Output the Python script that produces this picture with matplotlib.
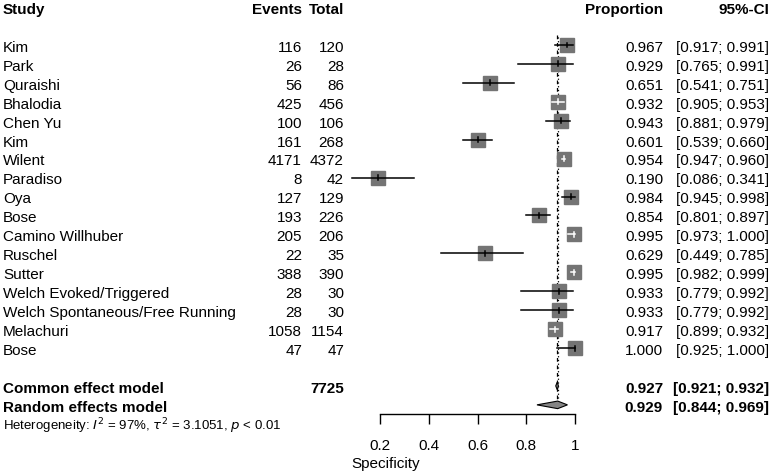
import matplotlib.pyplot as plt
from matplotlib.transforms import blended_transform_factory
from matplotlib.patches import Polygon

plt.rcParams['font.family'] = ['Liberation Sans', 'DejaVu Sans']

# study data
studies = ['Kim', 'Park', 'Quraishi', 'Bhalodia', 'Chen Yu', 'Kim', 'Wilent',
           'Paradiso', 'Oya', 'Bose', 'Camino Willhuber', 'Ruschel', 'Sutter',
           'Welch Evoked/Triggered', 'Welch Spontaneous/Free Running',
           'Melachuri', 'Bose']
events = [116, 26, 56, 425, 100, 161, 4171, 8, 127, 193, 205, 22, 388, 28, 28, 1058, 47]
totals = [120, 28, 86, 456, 106, 268, 4372, 42, 129, 226, 206, 35, 390, 30, 30, 1154, 47]
props = [0.967, 0.929, 0.651, 0.932, 0.943, 0.601, 0.954, 0.190, 0.984, 0.854,
         0.995, 0.629, 0.995, 0.933, 0.933, 0.917, 1.000]
lower = [0.917, 0.765, 0.541, 0.905, 0.881, 0.539, 0.947, 0.086, 0.945, 0.801,
         0.973, 0.449, 0.982, 0.779, 0.779, 0.899, 0.925]
upper = [0.991, 0.991, 0.751, 0.953, 0.979, 0.660, 0.960, 0.341, 0.998, 0.897,
         1.000, 0.785, 0.999, 0.992, 0.992, 0.932, 1.000]

common_est, common_lo, common_hi = 0.927, 0.921, 0.932
random_est, random_lo, random_hi = 0.929, 0.844, 0.969
total_n = 7725
xticks = [0.2, 0.4, 0.6, 0.8, 1.0]
xticklabels = ['0.2', '0.4', '0.6', '0.8', '1']

W, H = 771, 472
fig = plt.figure(figsize=(W / 100, H / 100), dpi=100)
ax = fig.add_axes([0, 0, 1, 1])

# x: proportion scale, 0.2 at px 380 and 1 at px 575
x0px, x1px = 380, 575
upp = 0.8 / (x1px - x0px)
ax.set_xlim(0.2 - x0px * upp, 1.0 + (W - x1px) * upp)
# y: one unit per row
row_px = 18.94
top_px = 45
ax.set_ylim((H - top_px) / row_px, -top_px / row_px)

tr = blended_transform_factory(ax.transAxes, ax.transData)
fs = 11
base = 0.36  # baseline offset below row centre


def put(xpx, row, s, ha='left', bold=False, size=fs):
    ax.text(xpx / W, row + base, s, transform=tr, ha=ha, va='baseline',
            fontsize=size, fontweight='bold' if bold else 'normal')


# header
put(3, -2, 'Study', bold=True)
put(302, -2, 'Events', ha='right', bold=True)
put(344, -2, 'Total', ha='right', bold=True)
put(663, -2, 'Proportion', ha='right', bold=True)
put(769, -2, '95%-CI', ha='right', bold=True)

box_ms = 10.4
half_box = box_ms / 2 * 100 / 72 * upp
gray_box = '#747474'

for i in range(len(studies)):
    put(3, i, studies[i])
    put(302, i, str(events[i]), ha='right')
    put(344, i, str(totals[i]), ha='right')
    put(663, i, '%.3f' % props[i], ha='right')
    put(769, i, '[%.3f; %.3f]' % (lower[i], upper[i]), ha='right')

    ax.plot([props[i]], [i], marker='s', ms=box_ms, color=gray_box,
            mec=gray_box, zorder=3)
    inside = lower[i] >= props[i] - half_box and upper[i] <= props[i] + half_box
    lc = 'white' if inside else 'black'
    ax.plot([lower[i], upper[i]], [i, i], color=lc, lw=1.1, zorder=4)
    ax.plot([props[i], props[i]], [i - 0.13, i + 0.13], color=lc, lw=1.1, zorder=4)

# pooled rows
put(3, 18, 'Common effect model', bold=True)
put(344, 18, str(total_n), ha='right', bold=True)
put(663, 18, '%.3f' % common_est, ha='right', bold=True)
put(769, 18, '[%.3f; %.3f]' % (common_lo, common_hi), ha='right', bold=True)
put(3, 19, 'Random effects model', bold=True)
put(663, 19, '%.3f' % random_est, ha='right', bold=True)
put(769, 19, '[%.3f; %.3f]' % (random_lo, random_hi), ha='right', bold=True)
put(3, 20, r'Heterogeneity: $I^2$ = 97%, $\tau^2$ = 3.1051, $p$ < 0.01', size=9.5)

dh = 0.2
for row, est, lo, hi in [(18, common_est, common_lo, common_hi),
                         (19, random_est, random_lo, random_hi)]:
    ax.add_patch(Polygon([(lo, row), (est, row - dh), (hi, row), (est, row + dh)],
                         closed=True, facecolor='#858585', edgecolor='black',
                         lw=0.8, zorder=3))

# reference lines of the pooled estimates
ax.plot([common_est, common_est], [-0.55, 18.8], color='black', lw=0.9,
        ls=(0, (3, 3)), zorder=2)
ax.plot([random_est, random_est], [-0.55, 18.8], color='black', lw=0.9,
        ls=(1.5, (1, 2)), zorder=2)

# x axis
for s in ['top', 'left', 'right']:
    ax.spines[s].set_visible(False)
ax.spines['bottom'].set_position(('data', 19.48))
ax.spines['bottom'].set_bounds(0.2, 1.0)
ax.spines['bottom'].set_linewidth(1)
ax.set_xticks(xticks)
ax.set_xticklabels(xticklabels, fontsize=fs)
ax.tick_params(axis='x', direction='out', length=7.2, width=1, pad=10.5)
ax.set_yticks([])
ax.set_xlabel('Specificity', fontsize=fs, labelpad=3.5)
ax.patch.set_visible(False)

fig.savefig('out.png', dpi=100)
